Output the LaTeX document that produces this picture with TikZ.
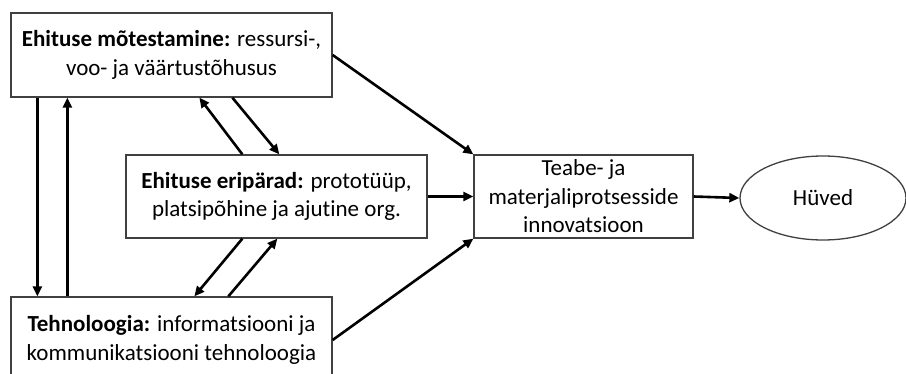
\documentclass[tikz,border=0pt]{standalone}
\usepackage{fontspec}
\setmainfont{Carlito}[Ligatures=NoCommon]
\usetikzlibrary{arrows.meta,shapes.geometric}
\begin{document}
\begin{tikzpicture}[x=1pt,y=-1pt,
  box/.style={draw=black!75,line width=1.3pt,rectangle,align=center,inner sep=0pt,
    font=\fontsize{23}{28.5}\selectfont},
  link/.style={line width=2.6pt,-{Triangle[length=10pt,width=9pt]}}]
\clip (0,0) rectangle (906,374);
\useasboundingbox (0,0) rectangle (906,374);

% boxes
\node[box,minimum width=321pt,minimum height=84pt] (b1) at (171.5,55)
  {\textbf{Ehituse mõtestamine:} ressursi-,\\voo- ja väärtustõhusus};
\node[box,minimum width=301pt,minimum height=83pt] (b2) at (276.5,196.5)
  {\textbf{Ehituse eripärad:} prototüüp,\\platsipõhine ja ajutine org.};
\node[box,minimum width=321pt,minimum height=86pt] (b3) at (171.5,340)
  {\textbf{Tehnoloogia:} informatsiooni ja\\kommunikatsiooni tehnoloogia};
\node[box,minimum width=219pt,minimum height=83pt] (b4) at (583.5,196.5)
  {Teabe- ja\\materjaliprotsesside\\innovatsioon};
\node[box,ellipse,minimum width=166pt,minimum height=84pt] (hv) at (823,198)
  {Hüved};

% vertical links between the outer boxes
\draw[link] ([xshift=27pt]b1.south west) -- ([xshift=27pt]b3.north west);
\draw[link] ([xshift=57pt]b3.north west) -- ([xshift=57pt]b1.south west);

% links with the middle box
\draw[link] ([xshift=117pt]b2.north west) -- ([xshift=189pt]b1.south west);
\draw[link] ([xshift=222pt]b1.south west) -- ([xshift=154pt]b2.north west);
\draw[link] ([xshift=117pt]b2.south west) -- ([xshift=184pt]b3.north west);
\draw[link] ([xshift=218pt]b3.north west) -- ([xshift=152pt]b2.south west);

% links into the innovation box and on to the benefits
\draw[link] (b1.east) -- (b4.north west);
\draw[link] (b2.east) -- (b4.west);
\draw[link] (b3.east) -- (b4.south west);
\draw[link] (b4.east) -- (hv.west);
\end{tikzpicture}
\end{document}
